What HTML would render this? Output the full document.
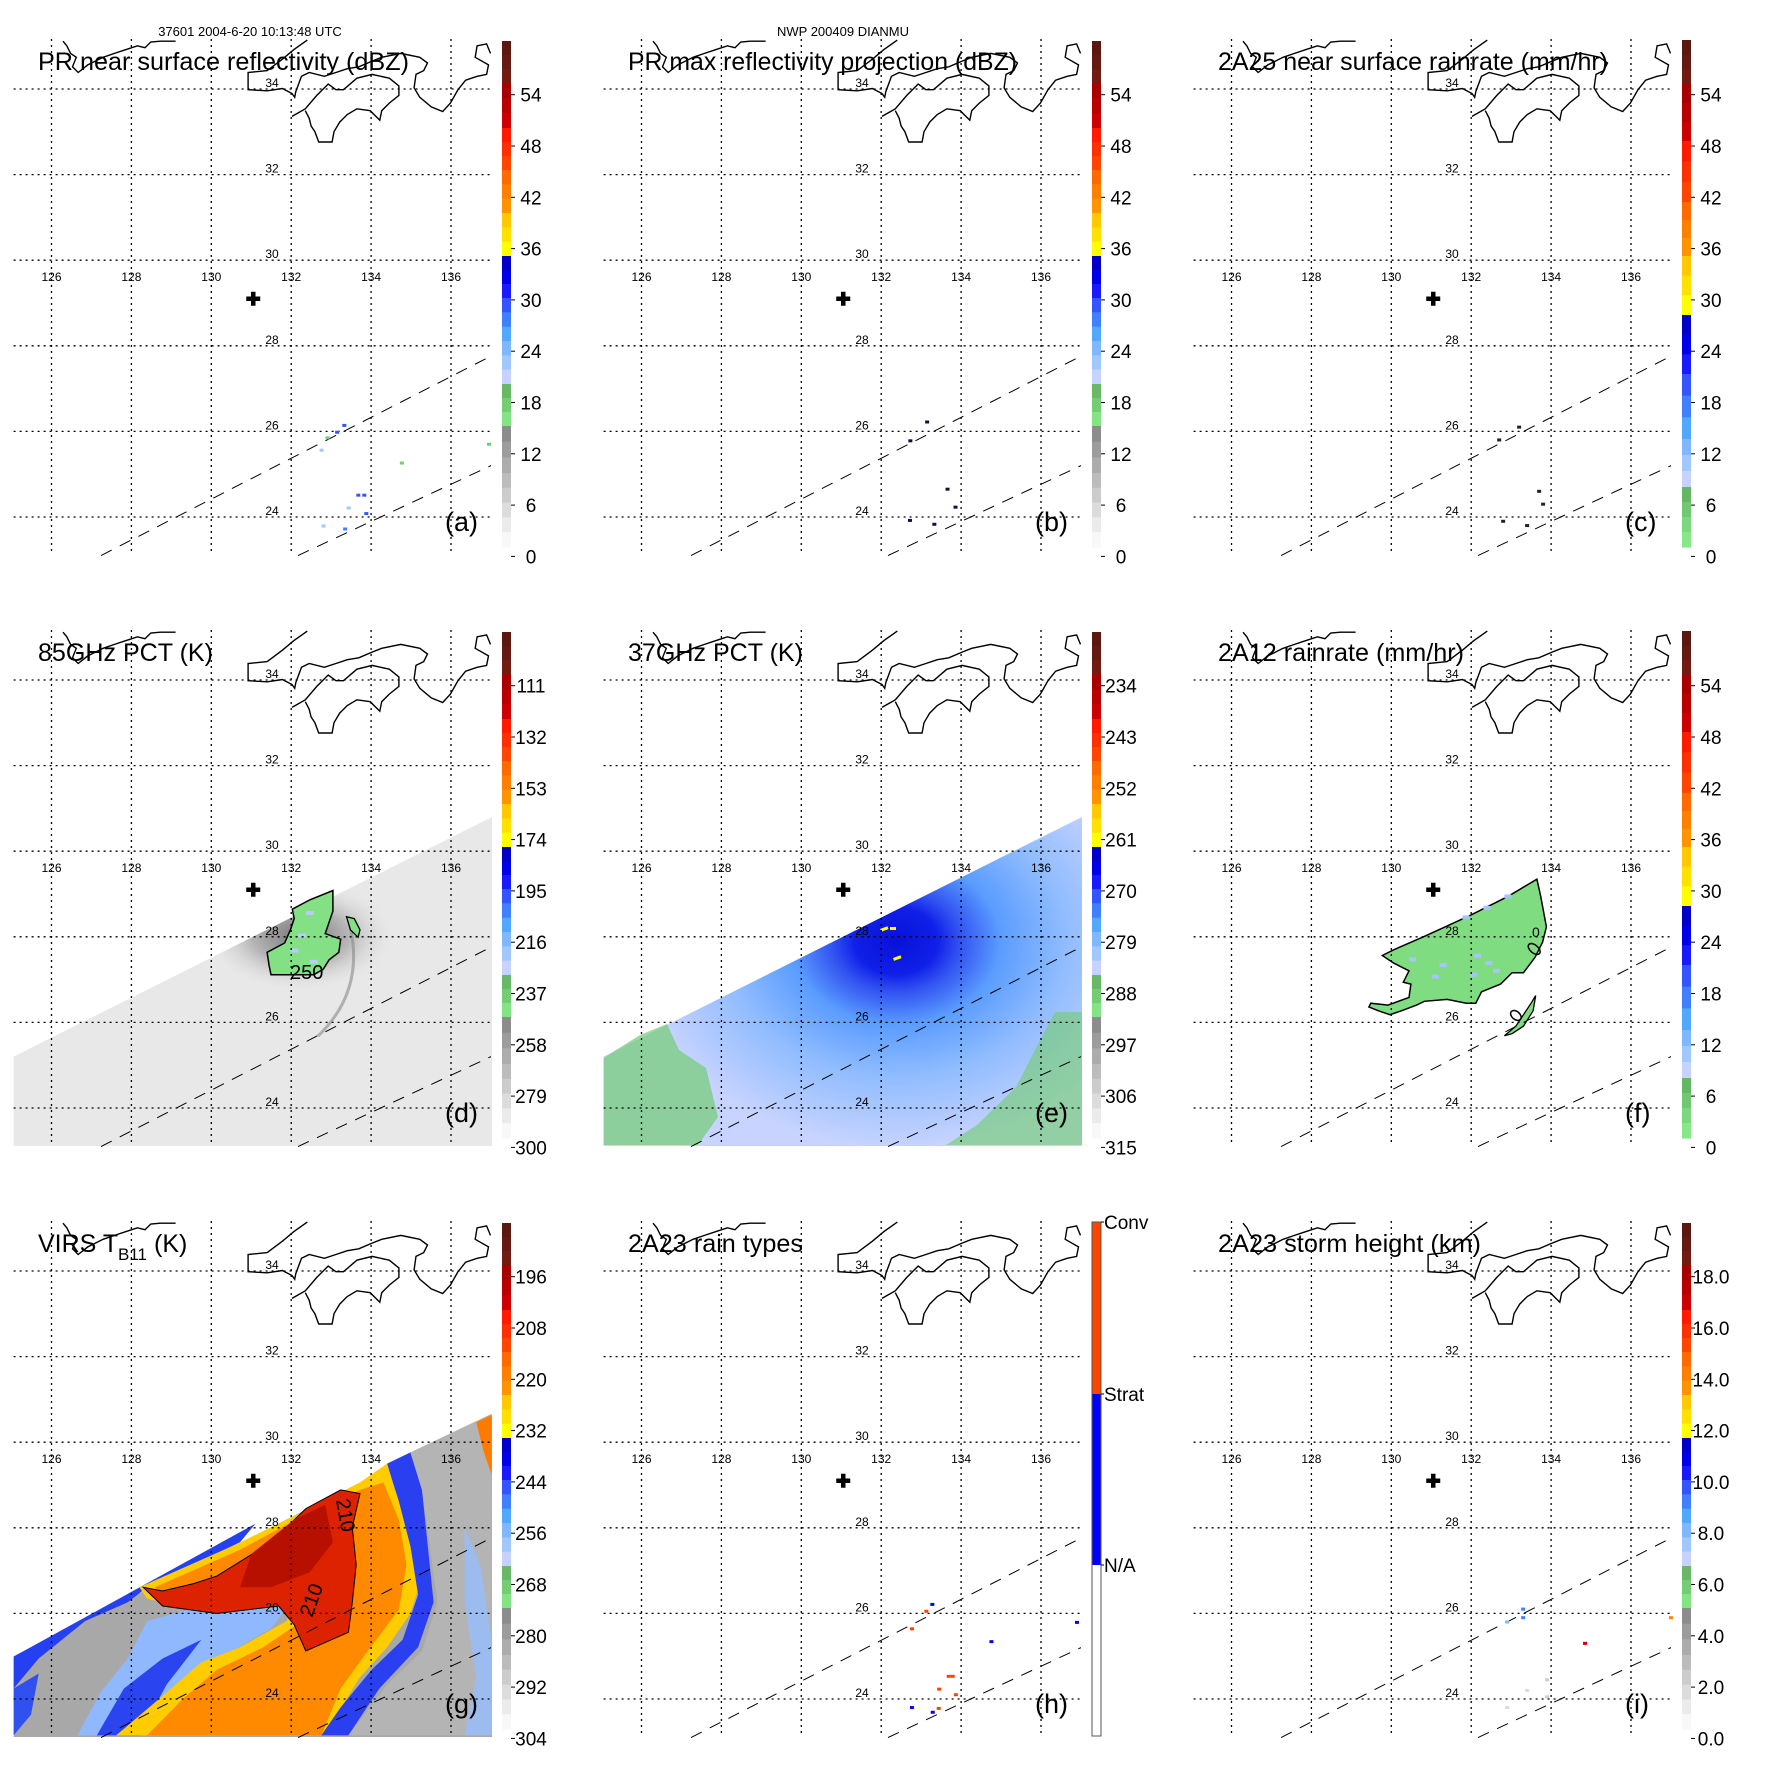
<!DOCTYPE html>
<html><head><meta charset="utf-8"><title>TRMM DIANMU multi-panel</title>
<style>
html,body{margin:0;padding:0;background:#fff;}
svg{display:block;font-family:"Liberation Sans",Arial,sans-serif;}
</style></head>
<body>
<svg id="fig" xmlns="http://www.w3.org/2000/svg" width="1771" height="1771" viewBox="0 0 1771 1771">
<rect x="0" y="0" width="1771" height="1771" fill="#fff"/>
<text x="250" y="36" font-size="13" text-anchor="middle">37601 2004-6-20 10:13:48 UTC</text>
<text x="843" y="36" font-size="13" text-anchor="middle">NWP 200409 DIANMU</text>
</svg>
<script>
// ---------------- data ----------------
const lonTicks = [126,128,130,132,134,136];
const latTicks = [24,26,28,30,32,34];
const panelLetters = ['a','b','c','d','e','f','g','h','i'];
const panelTitles = ['PR near surface reflectivity (dBZ)','PR max reflectivity projection (dBZ)','2A25 near surface rainrate (mm/hr)','85GHz PCT (K)','37GHz PCT (K)','2A12 rainrate (mm/hr)','VIRS T','2A23 rain types','2A23 storm height (km)'];
const titleWidths = [371,389,390,175,175,246,148,175,263];
const ticksA = ['54','48','42','36','30','24','18','12','6','0'];
const ticksD = ['111','132','153','174','195','216','237','258','279','300'];
const ticksE = ['234','243','252','261','270','279','288','297','306','315'];
const ticksG = ['196','208','220','232','244','256','268','280','292','304'];
const ticksI = ['18.0','16.0','14.0','12.0','10.0','8.0','6.0','4.0','2.0','0.0'];
const rainTypeLabels = ['Conv','Strat','N/A'];
// storm centre
const centerLon = 131.05, centerLat = 29.1;
// PR swath edges (lon,lat at map bottom / right edge)
const swathEdge1 = [[127.24,23.1],[137.0,27.76]];
const swathEdge2 = [[132.17,23.1],[137.0,25.2]];
// PR specks panel a (value dBZ)
const specksALon = [133.15,133.33,132.76,132.91,134.77,136.95,133.68,133.83,133.44,133.88,132.81,133.35];
const specksALat = [25.98,26.14,25.56,25.85,25.26,25.70,24.51,24.51,24.21,24.08,23.79,23.72];
const specksAVal = [30,30,22,17,17,17,30,30,22,30,22,28];
// panel b specks
const specksBLon = [133.15,132.73,133.66,133.86,132.72,133.33];
const specksBLat = [26.22,25.78,24.65,24.23,23.92,23.83];
const specksBVal = [33,31,33,34,32,30];
// panel c specks
const specksCLon = [133.2,132.7,133.7,133.8,132.8,133.4];
const specksCLat = [26.1,25.8,24.6,24.3,23.9,23.8];
const specksCVal = [26,26,27,26,26,27];
// panel h rain types (1=strat,2=conv)
const specksHLon = [133.28,133.13,132.77,134.76,136.9,133.69,133.79,133.45,133.87,132.77,133.29,133.44];
const specksHLat = [26.21,26.05,25.64,25.34,25.79,24.53,24.53,24.23,24.1,23.8,23.69,23.78];
const specksHType = [1,2,2,1,1,2,2,2,2,1,1,2];
// panel i storm heights (km)
const specksILon = [133.3,132.9,133.3,134.85,137.0,133.9,133.4,133.9,132.9];
const specksILat = [26.1,25.8,25.9,25.3,25.9,24.45,24.2,24.05,23.8];
const specksIVal = [9,8,9.5,17,14,2.5,2,2.5,2];

// ---------------- geometry ----------------
const X = lon => 51.5 + (lon-126)*39.95;
const Y = lat => 517 - (lat-24)*42.8;
const MAPL = 13.6, MAPR = 492, MAPT = 39, MAPB = 555;
const NS = 'http://www.w3.org/2000/svg';
const svg = document.getElementById('fig');
function el(tag, attrs, parent){
  const e = document.createElementNS(NS, tag);
  for (const k in attrs) e.setAttribute(k, attrs[k]);
  if (parent) parent.appendChild(e);
  return e;
}
const SCHEME1 = [[41,83,['#5a1810','#641a10','#701c10']],[83,128,['#a80000','#bb0000','#cc0000']],[128,170,['#ff1a00','#ff3000','#ff4500']],[170,213,['#ff6a00','#ff7f00','#ff9400']],[213,256,['#ffc800','#ffe000','#ffff00']],[256,298,['#0000c8','#0000e8','#1a1aff']],[298,341,['#3355ff','#4080ff','#50a8ff']],[341,384,['#80b8ff','#a0c8ff','#c6d2ff']],[384,426,['#68b868','#74cc74','#84e484']],[426,473,['#8c8c8c','#9c9c9c','#acacac']],[473,547,['#bcbcbc','#cccccc','#dcdcdc','#ebebeb','#f8f8f8']]];
const SCHEME2 = [[40,84,['#5a1810','#641a10','#701c10']],[84,141,['#a80000','#bb0000','#cc0000']],[141,202,['#ff1a00','#ff3000','#ff4500']],[202,256,['#ff6a00','#ff7f00','#ff9400']],[256,315,['#ffc800','#ffe000','#ffff00']],[315,374,['#0000c8','#0000e8','#1a1aff']],[374,439,['#3355ff','#4080ff','#50a8ff']],[439,487,['#80b8ff','#a0c8ff','#c6d2ff']],[487,547,['#64b864','#70c870','#7cd87c','#88e888']]];
function colorAtY(scheme, y){
  for (const s of scheme){
    if (y>=s[0] && y<=s[1]){
      const n=s[2].length; const i=Math.min(n-1,Math.floor((y-s[0])/(s[1]-s[0])*n));
      return s[2][i];
    }
  }
  return y<scheme[0][0]?scheme[0][2][0]:'#ffffff';
}
function valY(v, vTop, step){ return 94.7 + (vTop - v)/step*51.3; }

const coastMain = [[805,105],[770,130],[740,155],[700,185],[650,190],[650,235],[700,238],[740,232],[765,245],[772,255],[775,240],[790,200],[810,190],[850,200],[880,190],[910,180],[940,175],[975,160],[1000,150],[1050,140],[1100,150],[1120,165],[1110,185],[1090,195],[1085,230],[1100,255],[1130,280],[1160,292],[1180,270],[1200,235],[1220,210],[1250,200],[1275,195],[1280,170],[1245,150],[1250,120],[1275,115],[1285,140]];
const coastShikoku = [[765,305],[800,285],[830,250],[860,220],[880,235],[900,235],[935,205],[975,195],[1020,205],[1045,225],[1045,250],[1020,270],[1000,290],[995,315],[970,290],[935,285],[910,300],[890,320],[875,345],[870,372],[835,372],[825,345],[815,330],[810,310],[800,290]];
const coastKorea = [[165,108],[175,120],[185,140],[200,150],[190,175],[205,190],[230,170],[250,160],[270,150],[300,140],[330,130],[360,120],[380,125],[395,110],[420,108],[460,108]];
function zpts(a){ return a.map(p=>(p[0]/2.62).toFixed(1)+','+(p[1]/2.62).toFixed(1)).join(' '); }
function z5(a,oy){ return a.map(p=>(p[0]/2.583).toFixed(1)+','+(p[1]/2.668+oy).toFixed(1)).join(' '); }

// ---------------- panels ----------------
for (let p=0;p<9;p++){
  const col=p%3, row=Math.floor(p/3);
  const g = el('g',{transform:`translate(${col*590},${row*591})`},svg);
  
  
  const clipId='clip'+p;
  const cp = el('clipPath',{id:clipId},g);
  el('rect',{x:MAPL,y:MAPT,width:MAPR-MAPL,height:MAPB-MAPT},cp);
  const map = el('g',{'clip-path':`url(#${clipId})`},g);
  
  
  const swath = `${MAPL},${Y(25.2)} ${MAPR},${Y(30.8)} ${MAPR},${MAPB} ${MAPL},${MAPB}`;
  const L = panelLetters[p];
  if (L==='d'){
    const defs = el('defs',{},g);
    const rg = el('radialGradient',{id:'gd',cx:'0.5',cy:'0.5',r:'0.5'},defs);
    el('stop',{offset:'0','stop-color':'#777'},rg);
    el('stop',{offset:'0.5','stop-color':'#b4b4b4'},rg);
    el('stop',{offset:'1','stop-color':'#e4e4e4','stop-opacity':'0'},rg);
    const sc = el('clipPath',{id:'swd'},defs);
    el('polygon',{points:swath},sc);
    const s=el('polygon',{points:swath,fill:'#e8e8e8'},map);
    
    
    el('ellipse',{cx:300,cy:345,rx:95,ry:55,fill:'url(#gd)','clip-path':'url(#swd)'},map);
    el('path',{d:`M350,335 Q365,400 318,445`,stroke:'#888','stroke-width':3,fill:'none',opacity:0.6},map);
    const blob=[[755,825],[800,800],[860,775],[860,830],[850,860],[840,890],[880,905],[875,940],[850,960],[835,985],[810,1000],[760,1000],[700,1000],[695,975],[690,940],[735,915],[750,880],[760,850]];
    const b=el('polygon',{points:z5(blob,9),fill:'#84e084',stroke:'#000','stroke-width':1.5},map);
    
    
    el('polygon',{points:z5([[895,845],[915,850],[930,880],[925,900],[905,880]],9),fill:'#84e084',stroke:'#000','stroke-width':1.3},map);
    for (const q of [[790,830],[770,890],[750,930],[800,960]]) el('rect',{x:q[0]/2.583,y:q[1]/2.668+9,width:8,height:4,fill:'#b8ccff'},map);
    const lb=el('text',{x:290,y:388,'font-size':20},map); lb.textContent='250';
    
    
  }
  if (L==='e'){
    const defs = el('defs',{},g);
    const rg = el('radialGradient',{id:'ge',gradientUnits:'userSpaceOnUse',cx:306,cy:350,r:260,gradientTransform:'translate(306 350) scale(1 0.8) translate(-306 -350)'},defs);
    [['0','#0810d8'],['0.16','#1020e8'],['0.24','#3050f0'],['0.4','#5a9cff'],['0.65','#90bcff'],['1','#c8d4ff']].forEach(s=>el('stop',{offset:s[0],'stop-color':s[1]},rg));
    const s=el('polygon',{points:swath,fill:'url(#ge)'},map);
    
    
    el('polygon',{points:'13.5,467 50,444 77,433 89,459 116,477 128,526 108,554 13.5,554',fill:'#74cc74',opacity:0.7},map);
    el('polygon',{points:'492,421 465,421 445,459 426,496 387,534 356,554 492,554',fill:'#74cc74',opacity:0.65},map);
    el('rect',{x:290,y:338,width:8,height:3,fill:'#ffff00',transform:'rotate(-20 290 338)'},map);
    el('rect',{x:303,y:367,width:8,height:3,fill:'#ffff00',transform:'rotate(-20 303 367)'},map);
    el('rect',{x:300,y:336,width:6,height:3,fill:'#ffff00'},map);
  }
  if (L==='f'){
    const blob=[[530,955],[560,940],[640,905],[760,850],[860,800],[935,755],[945,800],[960,880],[950,920],[930,960],[900,1000],[870,1000],[840,1030],[790,1050],[775,1080],[750,1080],[700,1070],[640,1075],[620,1085],[580,1100],[550,1110],[520,1100],[495,1090],[500,1080],[545,1085],[600,1065],[605,1030],[585,1025],[600,995],[560,975]];
    const b=el('polygon',{points:zpts(blob),fill:'#80dc80',stroke:'#000','stroke-width':1.5},map);
    
    
    el('polygon',{points:zpts([[850,1165],[880,1140],[900,1110],[920,1080],[932,1060],[925,1100],[900,1140],[870,1160]]),fill:'#80dc80',stroke:'#000','stroke-width':1.3},map);
    el('ellipse',{cx:928/2.62,cy:938/2.62,rx:7,ry:4,fill:'none',stroke:'#000','stroke-width':1.5,transform:`rotate(40 ${928/2.62} ${938/2.62})`},map);
    el('ellipse',{cx:880/2.62,cy:1112/2.62,rx:6,ry:4,fill:'none',stroke:'#000','stroke-width':1.5,transform:`rotate(40 ${880/2.62} ${1112/2.62})`},map);
    for (const q of [[600,960],[660,1005],[760,1000],[800,970],[820,990],[770,950],[680,975],[850,795],[795,825],[740,850]]) el('rect',{x:q[0]/2.62,y:q[1]/2.62,width:7,height:4,fill:'#a8c4ff'},map);
    el('text',{x:352,y:346,'font-size':14},map).textContent='0';
  }
  if (L==='g'){
    const oy=8;
    const base=el('polygon',{points:`${MAPL},${Y(25.0)} ${MAPR},${Y(30.6)} ${MAPR},${MAPB} ${MAPL},${MAPB}`,fill:'#a8a8a8'},map);
    
    
    const polys = [
      [[[35,1245],[660,890],[620,940],[500,1000],[380,1060],[330,1100],[220,1150],[100,1250],[35,1330]],'#2440f0'],
      [[[35,1330],[100,1290],[80,1400],[35,1455]],'#3050f0'],
      [[[200,1455],[260,1340],[330,1250],[380,1150],[520,1110],[760,1090],[700,1170],[600,1230],[500,1300],[400,1400],[330,1455]],'#90b8ff'],
      [[[250,1455],[320,1330],[420,1250],[520,1200],[430,1320],[360,1455]],'#2a44f0'],
      [[[360,1060],[600,950],[780,860],[930,780],[1000,730],[1020,800],[1060,900],[1100,1000],[1060,1130],[1000,1220],[930,1300],[870,1400],[850,1455],[300,1455],[420,1350],[520,1260],[620,1220],[740,1150],[760,1100],[600,1110],[450,1110],[380,1090]],'#ffcc00'],
      [[[400,1060],[620,960],[800,860],[930,800],[990,780],[1030,880],[1050,1000],[1030,1120],[950,1230],[880,1330],[830,1455],[380,1455],[470,1360],[560,1280],[680,1220],[780,1150],[800,1100],[600,1115],[420,1100]],'#ff8a00'],
      [[[560,1030],[700,940],[790,850],[880,800],[930,810],[910,900],[920,1000],[910,1100],[900,1180],[790,1230],[760,1160],[720,1110],[560,1130],[420,1110],[370,1060],[420,1070],[500,1050]],'#dc2200'],
      [[[650,970],[760,880],[840,840],[860,940],[800,1020],[700,1060],[620,1060]],'#b81000'],
      [[[1000,730],[1060,700],[1090,800],[1110,1000],[1120,1100],[1080,1220],[980,1330],[900,1455],[830,1455],[880,1380],[960,1280],[1040,1200],[1080,1080],[1060,950],[1030,830]],'#2a40f0'],
      [[[1060,700],[1270,597],[1270,1455],[900,1455],[1000,1320],[1090,1230],[1130,1100],[1110,950],[1090,800]],'#b4b4b4'],
      [[[1230,620],[1270,600],[1270,760],[1250,700]],'#ff7a00'],
      [[[1200,900],[1240,1000],[1270,1200],[1270,1455],[1200,1455],[1230,1300],[1200,1100]],'#9cbcf0']
    ];
    polys.forEach((pp,k)=>{
      const e=el('polygon',{points:z5(pp[0],oy),fill:pp[1],stroke:(k===6?'#000':'none'),'stroke-width':1},map);
      
      
    });
    const t1=el('text',{x:336,y:318,'font-size':20,transform:'rotate(80 336 318)'},map); t1.textContent='210';
    const t2=el('text',{x:312,y:436,'font-size':20,transform:'rotate(-70 312 436)'},map); t2.textContent='210';
  }
  // grid
  for (const lon of lonTicks){
    const l=el('line',{x1:X(lon),x2:X(lon),y1:MAPT,y2:MAPB,stroke:'#000','stroke-width':1.3,'stroke-dasharray':'2 4'},g);
    
    
    const t=el('text',{x:X(lon),y:281,'font-size':12,'text-anchor':'middle'},g); t.textContent=lon;
    
    
  }
  for (const lat of latTicks){
    const l=el('line',{x1:MAPL,x2:MAPR,y1:Y(lat),y2:Y(lat),stroke:'#000','stroke-width':1.3,'stroke-dasharray':'2 4'},g);
    
    
    const t=el('text',{x:272,y:Y(lat)-2,'font-size':12,'text-anchor':'middle'},g); t.textContent=lat;
    
    
  }
  // coastline
  for (const [nm,arr] of [['coast-honshu',coastMain],['coast-shikoku',coastShikoku],['coast-korea',coastKorea]]){
    const c=el('polyline',{points:zpts(arr),fill:'none',stroke:'#000','stroke-width':1.4},g);
    
    
  }
  // PR swath edges
  for (const [k,sw] of [[1,swathEdge1],[2,swathEdge2]]){
    const d=el('line',{x1:X(sw[0][0]),y1:Y(sw[0][1]),x2:X(sw[1][0]),y2:Y(sw[1][1]),stroke:'#000','stroke-width':1,'stroke-dasharray':'12 9'},g);
    
    
  }
  // specks
  const addSpecks=(lons,lats,colorFn,nm)=>{
    for (let i=0;i<lons.length;i++){
      const r=el('rect',{x:X(lons[i])-2,y:Y(lats[i])-1.5,width:4,height:3,fill:colorFn(i)},g);
      
      
    }
  };
  if (L==='a') addSpecks(specksALon,specksALat,i=>colorAtY(SCHEME1,valY(specksAVal[i],54,6)),'reflectivity-pixel');
  if (L==='b') addSpecks(specksBLon,specksBLat,i=>'#101040','max-reflectivity-pixel');
  if (L==='c') addSpecks(specksCLon,specksCLat,i=>'#202030','rainrate-pixel');
  if (L==='h') addSpecks(specksHLon,specksHLat,i=>specksHType[i]===2?'#ff4400':'#0000ff','rain-type-pixel');
  if (L==='i') addSpecks(specksILon,specksILat,i=>colorAtY(SCHEME1,valY(specksIVal[i],18,2)),'storm-height-pixel');
  // storm centre cross
  const cx=X(centerLon), cy=Y(centerLat);
  const cr=el('path',{d:`M${cx-7},${cy} H${cx+7} M${cx},${cy-7} V${cy+7}`,stroke:'#000','stroke-width':4.5},g);
  
  
  // title
  const tt=el('text',{x:38,y:70,'font-size':25,textLength:titleWidths[p],lengthAdjust:'spacingAndGlyphs'},g);
  tt.textContent=panelTitles[p];
  
  
  if (L==='g'){
    tt.removeAttribute('textLength');
    const sub=el('text',{x:118,y:78,'font-size':17},g); sub.textContent='B11';
    
    
    const k2=el('text',{x:154,y:70,'font-size':25},g); k2.textContent='(K)';
    
    
  }
  // panel letter
  const pl=el('text',{x:445,y:531,'font-size':27},g); pl.textContent='('+L+')';
  
  
  // colorbar
  const cb=el('g',{},g);
  
  
  if (L==='h'){
    const segs=[[40,212,'#ff4400'],[212,383,'#0000ff'],[383,554,'#ffffff']];
    segs.forEach(s=>el('rect',{x:502,y:s[0],width:9,height:s[1]-s[0],fill:s[2]},cb));
    el('rect',{x:502,y:40,width:9,height:514,fill:'none',stroke:'#555','stroke-width':1},cb);
    [40,212,383].forEach((yy,k)=>{
      el('line',{x1:511,x2:514,y1:yy,y2:yy,stroke:'#000'},cb);
      const t=el('text',{x:514,y:yy+7,'font-size':19},cb); t.textContent=rainTypeLabels[k];
      
      
    });
  } else {
    const scheme=(L==='c'||L==='f')?SCHEME2:SCHEME1;
    for (const s of scheme){
      const n=s[2].length, h=(s[1]-s[0])/n;
      s[2].forEach((c,i)=>el('rect',{x:502,y:s[0]+i*h,width:9,height:h+0.6,fill:c},cb));
    }
    const labs = {a:ticksA,b:ticksA,c:ticksA,f:ticksA,d:ticksD,e:ticksE,g:ticksG,i:ticksI}[L];
    labs.forEach((lab,k)=>{
      const yy=94.7+k*51.3;
      el('line',{x1:511,x2:515,y1:yy,y2:yy,stroke:'#000','stroke-width':1},cb);
      const t=el('text',{x:531,y:yy+7,'font-size':19,'text-anchor':'middle'},cb); t.textContent=lab;
      
      
    });
  }
}
</script>
</body></html>
